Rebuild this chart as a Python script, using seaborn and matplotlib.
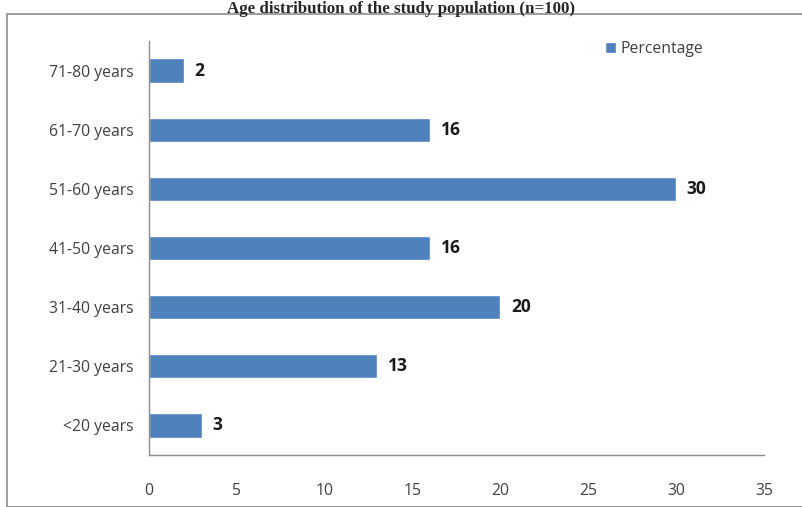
import matplotlib
matplotlib.use("Agg")
import matplotlib.pyplot as plt
import seaborn as sns
import pandas as pd
from matplotlib.patches import Rectangle

# data (top to bottom)
age_groups = ["71-80 years", "61-70 years", "51-60 years", "41-50 years",
              "31-40 years", "21-30 years", "<20 years"]
percentages = [2, 16, 30, 16, 20, 13, 3]
x_ticks = [0, 5, 10, 15, 20, 25, 30, 35]

df = pd.DataFrame({"age": age_groups, "Percentage": percentages})

sns.set_style("white")
plt.rcParams["font.family"] = ["Open Sans", "DejaVu Sans"]

fig = plt.figure(figsize=(8.03, 5.07), dpi=100)
ax = fig.add_axes([149 / 803, 1 - 455 / 507, (764 - 149) / 803, (455 - 41) / 507])

sns.barplot(data=df, x="Percentage", y="age", order=age_groups, color="#4F81BD",
            width=0.41, saturation=1, ax=ax, label="Percentage")

# value labels
for i, v in enumerate(percentages):
    ax.text(v + 0.6, i, str(v), va="center", ha="left", fontsize=12.5,
            fontweight="bold", color="#1a1a1a")

ax.set_xlim(0, 35)
ax.set_ylim(6.5, -0.5)
ax.set_xticks(x_ticks)
ax.set_xticklabels([str(t) for t in x_ticks])
ax.set_xlabel("")
ax.set_ylabel("")

# category ticks sit between bars, like Excel
ax.set_yticks(range(len(age_groups)))
ax.set_yticklabels(age_groups)
ax.set_yticks([i - 0.5 for i in range(len(age_groups) + 1)], minor=True)
ax.tick_params(axis="y", which="major", length=0, pad=11, labelsize=11.3, labelcolor="#404040")
ax.tick_params(axis="y", which="minor", length=5, color="#8c8c8c", width=1, direction="out")
ax.tick_params(axis="x", which="major", length=5, color="#8c8c8c", width=1, direction="out",
               labelsize=11.3, labelcolor="#404040", pad=15)

for side in ["top", "right"]:
    ax.spines[side].set_visible(False)
for side in ["left", "bottom"]:
    ax.spines[side].set_color("#8c8c8c")
    ax.spines[side].set_linewidth(1)

leg = ax.legend(loc="center right", bbox_to_anchor=(0.925, 0.98), frameon=False,
                fontsize=11.3, handlelength=0.7, handleheight=0.7, handletextpad=0.3)
for t in leg.get_texts():
    t.set_color("#404040")

# outer chart frame
fig.patches.append(Rectangle((7 / 803, 0), 1, 1 - 14 / 507, transform=fig.transFigure,
                             fill=False, edgecolor="#8c8c8c", linewidth=1.2))

fig.text(0.5, 1 - 1 / 507, "Age distribution of the study population (n=100)",
         ha="center", va="top", fontsize=12.2, fontweight="bold",
         family=["Liberation Serif", "DejaVu Serif"])

fig.savefig("out.png", dpi=100)
